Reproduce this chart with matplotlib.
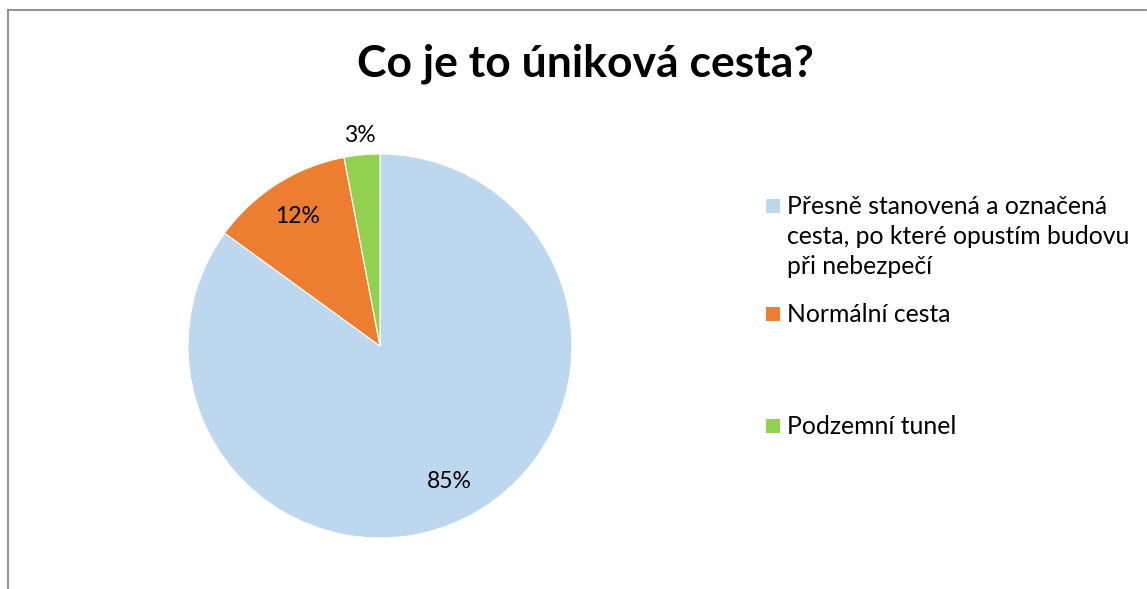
import matplotlib
matplotlib.use("Agg")
import matplotlib.pyplot as plt
from matplotlib.lines import Line2D
from matplotlib.patches import Rectangle
import numpy as np

plt.rcParams["font.family"] = ["Lato", "DejaVu Sans"]

#-------------------------------------------------------------------------

title = "Co je to úniková cesta?"

categories = ["Přesně stanovená a označená\ncesta, po které opustím budovu\npři nebezpečí",
              "Normální cesta",
              "Podzemní tunel"]
values = [85, 12, 3]
colors = ["#BDD7EE", "#ED7D31", "#92D050"]

# label radius (pie radius = 1)
label_r = [0.79, 0.80, 1.10]

#-------------------------------------------------------------------------

W, H = 1147, 589
fig = plt.figure(figsize = (W/100, H/100), dpi = 100)

# frame (top and left visible)
fig.add_artist(Line2D([8/W, 1146/W], [1 - 10/H, 1 - 10/H], color = "#898989", lw = 1.3))
fig.add_artist(Line2D([8/W, 8/W], [1 - 10/H, 0], color = "#898989", lw = 1.3))

cx, cy, r = 380, 346, 192
ax = fig.add_axes([(cx - r)/W, (H - cy - r)/H, 2*r/W, 2*r/H])

wedges, _ = ax.pie(values, colors = colors, startangle = 90, counterclock = False,
                   radius = 1, wedgeprops = dict(edgecolor = "white", linewidth = 0.8))
ax.set_xlim(-1, 1)
ax.set_ylim(-1, 1)
ax.set_aspect("equal")
ax.axis("off")

for w, v, lr in zip(wedges, values, label_r):
    ang = np.deg2rad((w.theta1 + w.theta2)/2)
    ax.text(lr*np.cos(ang), lr*np.sin(ang), f"{v}%", ha = "center", va = "center",
            fontsize = 16.5, color = "black", clip_on = False)

fig.text(585/W, 1 - 76/H, title, ha = "center", va = "baseline",
         fontsize = 32, fontweight = "bold")

# legend
leg_x = 787
leg_base = [214, 322, 434]
line_h = 30
for lab, col, yb in zip(categories, colors, leg_base):
    for k, line in enumerate(lab.split("\n")):
        fig.text(leg_x/W, 1 - (yb + k*line_h)/H, line, ha = "left", va = "baseline",
                 fontsize = 17.8)
    fig.add_artist(Rectangle((766/W, 1 - (yb - 1)/H), 14/W, 14/H,
                             facecolor = col, edgecolor = "none", transform = fig.transFigure))

fig.savefig("out.png", dpi = 100)
